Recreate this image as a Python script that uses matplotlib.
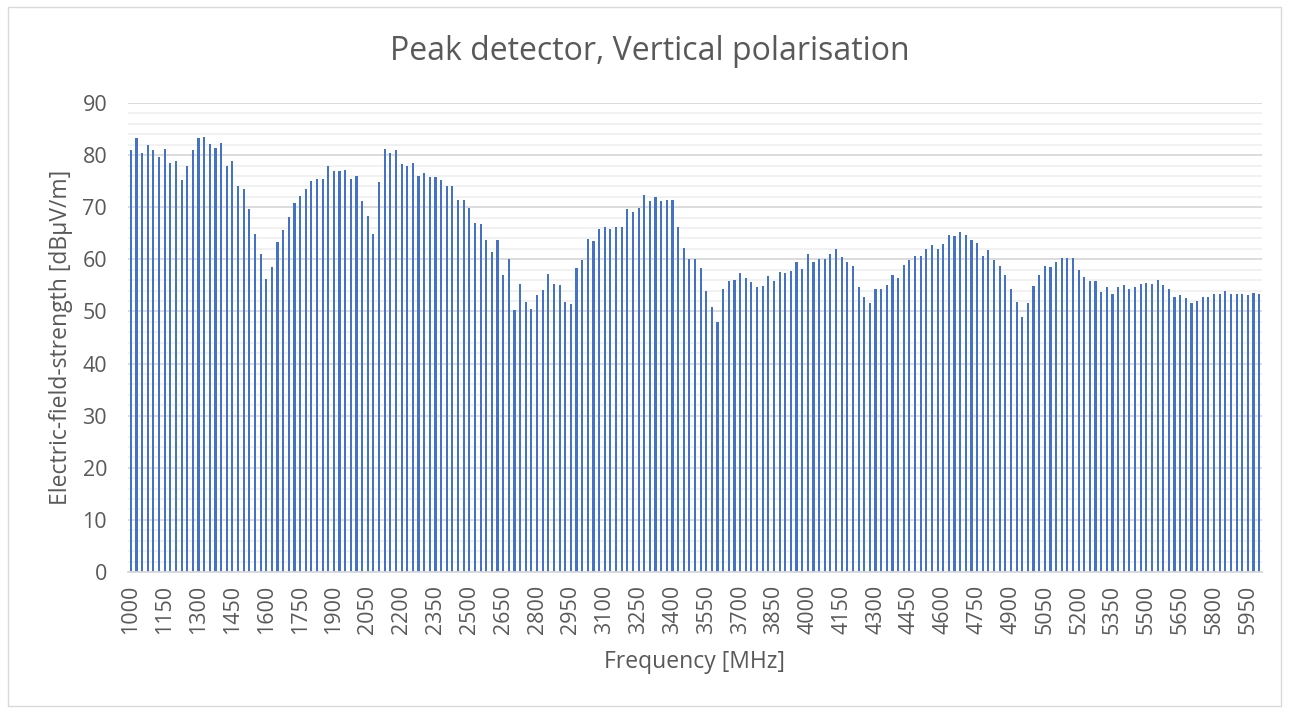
import numpy as np
import matplotlib
matplotlib.use("Agg")
import matplotlib.pyplot as plt
from matplotlib.patches import Rectangle

# Categories: frequency in MHz (25 MHz steps)
frequencies = list(range(1000, 6001, 25))

# Peak detector field strength [dBuV/m]
field_strength = [
    80.9, 83.2, 80.4, 81.9, 80.9, 79.7, 81.2, 78.4, 78.9, 75.2,
    78.0, 80.9, 83.2, 83.4, 82.1, 81.4, 82.4, 78.0, 78.9, 74.0,
    73.5, 69.6, 64.9, 61.0, 56.3, 58.5, 63.3, 65.6, 68.1, 70.8,
    72.1, 73.5, 75.0, 75.5, 75.5, 78.0, 77.0, 77.0, 77.2, 75.5,
    76.0, 71.1, 68.3, 64.9, 74.8, 81.2, 80.4, 80.9, 78.3, 78.0,
    78.4, 76.0, 76.5, 75.8, 75.8, 75.2, 74.0, 74.0, 71.3, 71.3,
    69.9, 66.9, 66.7, 63.7, 61.5, 63.7, 57.0, 60.0, 50.2, 55.3,
    51.9, 50.4, 53.1, 54.1, 57.1, 55.3, 55.1, 51.9, 51.4, 58.3,
    59.8, 63.9, 63.5, 65.9, 66.2, 65.9, 66.2, 66.2, 69.6, 69.1,
    69.9, 72.3, 71.1, 72.0, 71.1, 71.3, 71.3, 66.2, 62.2, 60.0,
    60.0, 58.3, 53.9, 50.9, 47.9, 54.4, 55.9, 56.1, 57.3, 56.4,
    55.6, 54.6, 54.8, 56.8, 55.8, 57.5, 57.3, 57.8, 59.5, 58.2,
    61.0, 59.5, 60.0, 60.0, 61.0, 62.0, 60.5, 59.5, 58.7, 54.6,
    52.8, 51.6, 54.3, 54.3, 55.0, 57.0, 56.5, 59.0, 59.9, 60.7,
    60.7, 61.9, 62.7, 61.9, 63.0, 64.7, 64.4, 65.2, 64.7, 63.7,
    63.2, 60.7, 61.7, 59.8, 58.7, 57.0, 54.3, 51.9, 48.9, 51.6,
    54.8, 57.0, 58.7, 58.5, 59.5, 60.2, 60.2, 60.2, 58.0, 56.6,
    55.8, 55.8, 53.8, 54.6, 53.4, 54.6, 55.1, 54.3, 54.6, 55.3,
    55.5, 55.3, 56.0, 55.1, 54.3, 52.8, 53.1, 52.6, 51.6, 52.1,
    52.8, 52.8, 53.4, 53.4, 53.9, 53.4, 53.4, 53.4, 53.1, 53.6,
    53.4,
]

title = "Peak detector, Vertical polarisation"
x_label = "Frequency [MHz]"
y_label = "Electric-field-strength [dBµV/m]"

plt.rcParams['font.family'] = ['Open Sans', 'DejaVu Sans']
TXT = "#595959"

W, H = 1289, 713
fig = plt.figure(figsize=(W / 100, H / 100), dpi=100)
fig.patch.set_facecolor("white")

# chart border
fig.add_artist(Rectangle((8 / W, 7 / H), (1281 - 8) / W, (706 - 7) / H,
                         transform=fig.transFigure, fill=False,
                         edgecolor="#d9d9d9", linewidth=1.0))

left, right, top, bottom = 128, 1262, 103, 572
ax = fig.add_axes([left / W, 1 - bottom / H, (right - left) / W, (bottom - top) / H])

x = np.arange(len(frequencies))
ax.bar(x, field_strength, width=0.38, color="#4472C4", zorder=3)

ax.set_xlim(-0.5, len(frequencies) - 0.5)
ax.set_ylim(0, 90)
ax.set_yticks(np.arange(0, 91, 10))
ax.set_yticks(np.arange(0, 91, 2), minor=True)
ax.grid(axis="y", which="major", color="#d9d9d9", linewidth=1.3, zorder=0)
ax.grid(axis="y", which="minor", color="#f0f0f0", linewidth=1.3, zorder=0)
ax.set_axisbelow(True)

tick_idx = x[::6]
ax.set_xticks(tick_idx)
ax.set_xticklabels([str(frequencies[i]) for i in tick_idx], rotation=90)

for s in ["left", "right", "top"]:
    ax.spines[s].set_visible(False)
ax.spines["bottom"].set_color("#d9d9d9")
ax.spines["bottom"].set_linewidth(1.3)
ax.spines["bottom"].set_zorder(4)

ax.tick_params(axis="both", which="both", length=0, labelsize=15.5, labelcolor=TXT)
ax.tick_params(axis="y", pad=15)
ax.tick_params(axis="x", pad=9)

fig.text(695 / W, 1 - 668 / H, x_label, ha="center", va="baseline",
         fontsize=16.5, color=TXT)
fig.text(61 / W, 1 - 337 / H, y_label, ha="center", va="center", rotation=90,
         fontsize=16.5, color=TXT)
fig.text(650 / W, 1 - 60 / H, title, ha="center", va="baseline",
         fontsize=23, color=TXT)

fig.savefig("out.png", dpi=100, facecolor="white")
